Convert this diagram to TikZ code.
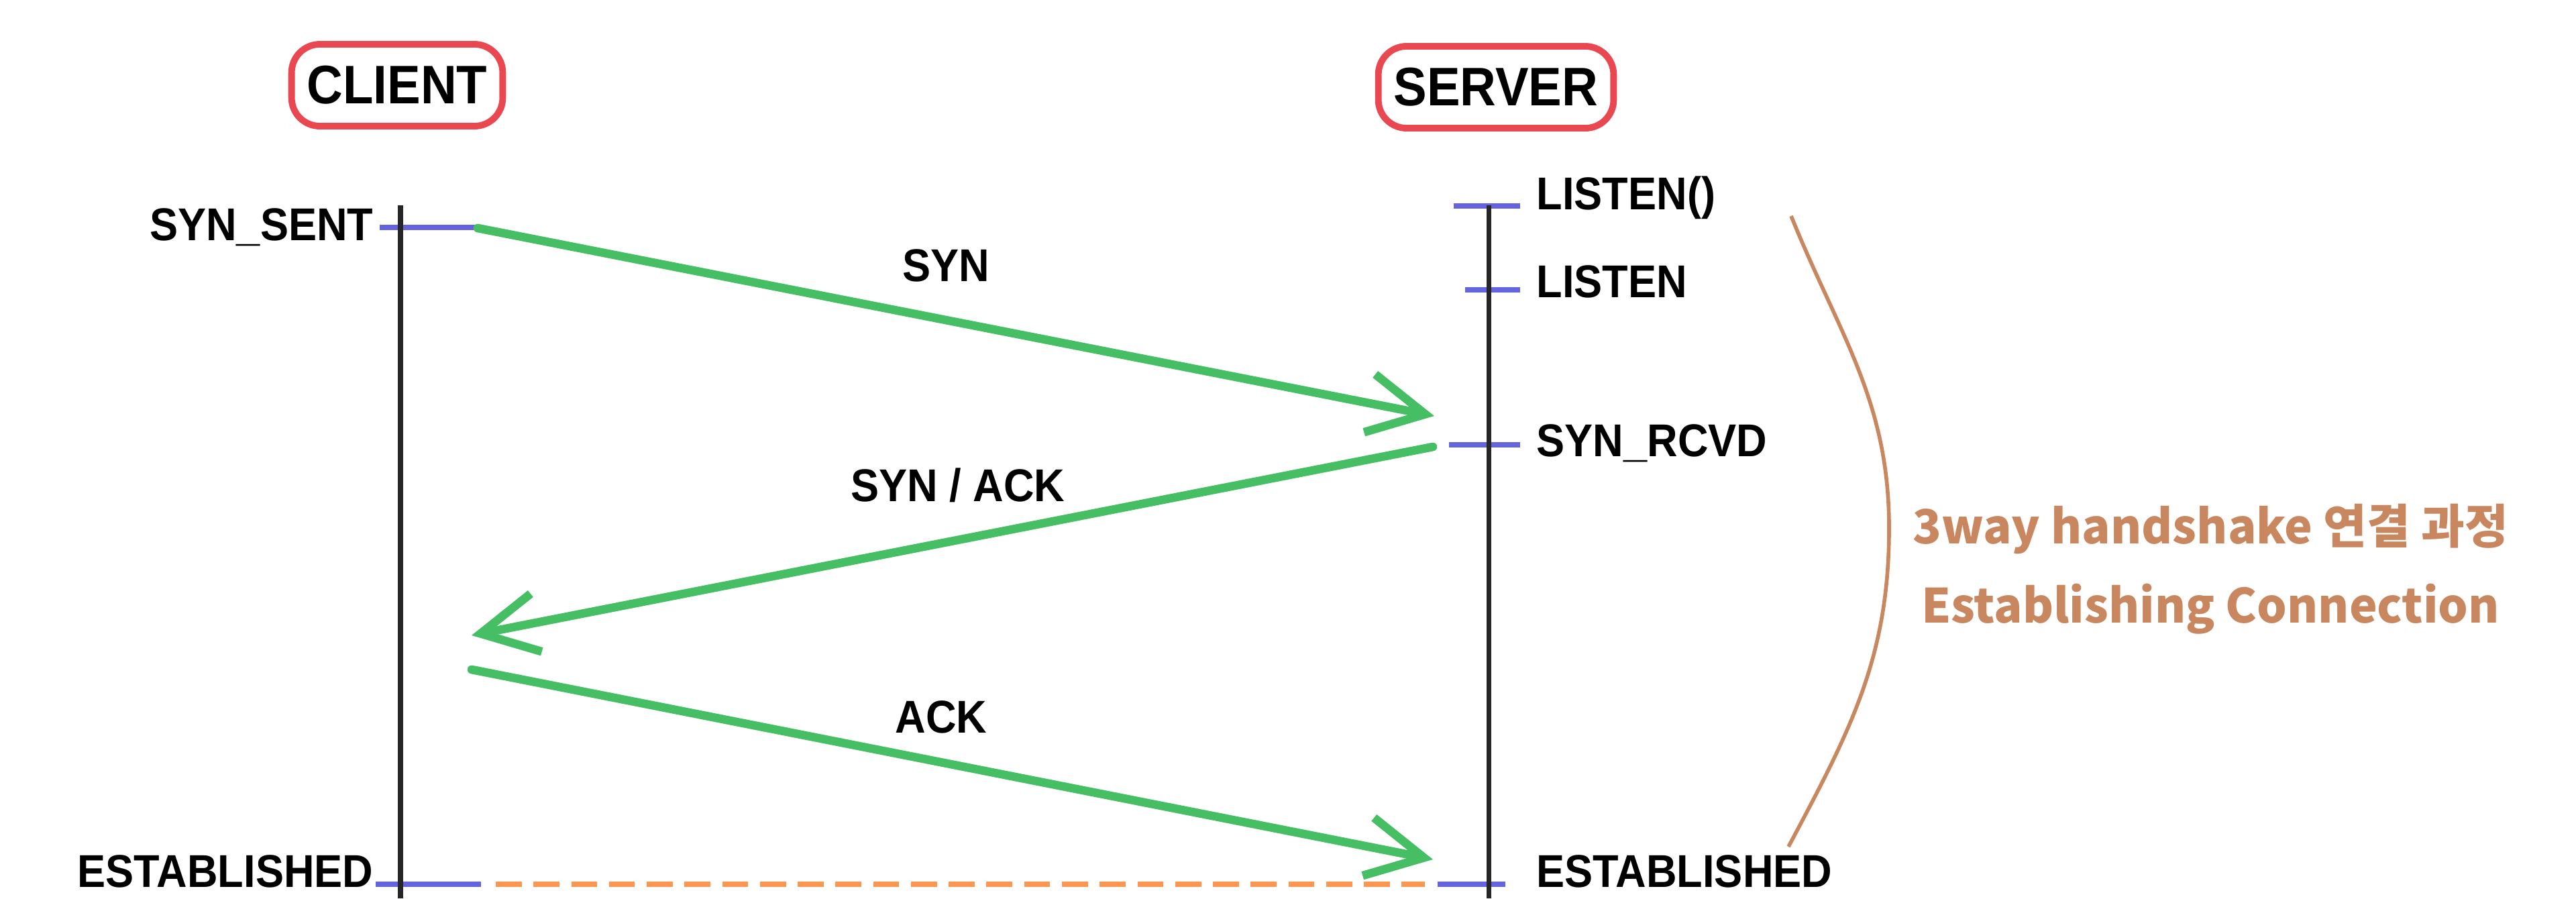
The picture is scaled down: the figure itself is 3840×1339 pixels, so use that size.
\documentclass[tikz,border=0pt]{standalone}
\usepackage{fontspec}
\setmainfont{Liberation Sans}[FakeStretch=0.92]
\newfontfamily\krfont{Noto Sans CJK KR}
\usetikzlibrary{arrows.meta}
\definecolor{boxred}{RGB}{234,72,80}
\definecolor{msggreen}{RGB}{70,190,100}
\definecolor{tickblue}{RGB}{100,100,222}
\definecolor{estorange}{RGB}{252,150,80}
\definecolor{notebrown}{RGB}{201,135,96}
\begin{document}
\begin{tikzpicture}[x=0.01cm,y=-0.01cm,
  hdr/.style={draw=boxred, line width=2.8pt, rounded corners=12pt,
    inner xsep=0.23cm, inner ysep=0pt, minimum height=1.22cm,
    font=\fontsize{23}{26}\selectfont\bfseries},
  lbl/.style={inner sep=0pt, font=\fontsize{19.5}{22}\selectfont\bfseries},
  life/.style={draw=black!85, line width=2pt},
  tick/.style={draw=tickblue, line width=2.2pt},
  msg/.style={draw=msggreen, line width=3.6pt, line cap=round,
    -{Straight Barb[length=24pt,width=25pt,line width=3.6pt]}},
  estline/.style={draw=estorange, line width=2.4pt, dash pattern=on 11pt off 5pt},
  note/.style={draw=notebrown, line width=1.6pt}]
\useasboundingbox (0,0) rectangle (3840,1339);

% headers
\node[hdr] (client) at (592,127) {CLIENT};
\node[hdr] (server) at (2230,130) {SERVER};

% state labels
\node[lbl, anchor=base east] (synsent) at (557,358) {SYN\_SENT};
\node[lbl, anchor=base west] (listen0) at (2290,312) {LISTEN()};
\node[lbl, anchor=base west] (listen) at (2290,443) {LISTEN};
\node[lbl, anchor=base west] (synrcvd) at (2290,680) {SYN\_RCVD};
\node[lbl, anchor=base east] (estc) at (557,1322) {ESTABLISHED};
\node[lbl, anchor=base west] (ests) at (2290,1322) {ESTABLISHED};

% message labels
\node[lbl, anchor=base] (synlbl) at (1410,419) {SYN};
\node[lbl, anchor=base] (synacklbl) at (1428,747) {SYN / ACK};
\node[lbl, anchor=base] (acklbl) at (1403,1092) {ACK};

% coordinates
\coordinate (cTop) at (597,306);
\coordinate (cBot) at (597,1339);
\coordinate (sTop) at (2219,306);
\coordinate (sBot) at (2219,1339);

\coordinate (t1a) at (566,339);
\coordinate (t1b) at (712,339);
\coordinate (t2a) at (2167,307);
\coordinate (t2b) at (2266,307);
\coordinate (t3a) at (2184,432);
\coordinate (t3b) at (2266,432);
\coordinate (t4a) at (2160,663);
\coordinate (t4b) at (2266,663);
\coordinate (e1a) at (560,1318);
\coordinate (e1b) at (717,1318);
\coordinate (e2a) at (739,1318);
\coordinate (e2b) at (2124,1318);
\coordinate (e3a) at (2143,1318);
\coordinate (e3b) at (2244,1318);

\coordinate (synA) at (712,340);
\coordinate (synB) at (2138,620);
\coordinate (saA) at (2136,666);
\coordinate (saB) at (703,947);
\coordinate (ackA) at (703,998);
\coordinate (ackB) at (2136,1281);

% ticks
\draw[tick] (t1a) -- (t1b);
\draw[tick] (t2a) -- (t2b);
\draw[tick] (t3a) -- (t3b);
\draw[tick] (t4a) -- (t4b);
\draw[tick] (e1a) -- (e1b);
\draw[estline] (e2a) -- (e2b);
\draw[tick] (e3a) -- (e3b);

% lifelines
\draw[life] (cTop) -- (cBot);
\draw[life] (sTop) -- (sBot);

% messages
\draw[msg] (synA) -- (synB);
\draw[msg] (saA) -- (saB);
\draw[msg] (ackA) -- (ackB);

% brace-like curve and note
\coordinate (bTop) at (2670,322);
\coordinate (bMid) at (2816,787);
\coordinate (bBot) at (2666,1262);
\draw[note] (bTop) to[out=-68,in=90] (bMid) to[out=-90,in=62] (bBot);
\node[text=notebrown, align=center, inner sep=0pt,
  font=\krfont\bfseries\fontsize{20}{33.5}\selectfont] (notetext) at (3295,848)
  {3way handshake 연결 과정\\Establishing Connection};
\end{tikzpicture}
\end{document}
